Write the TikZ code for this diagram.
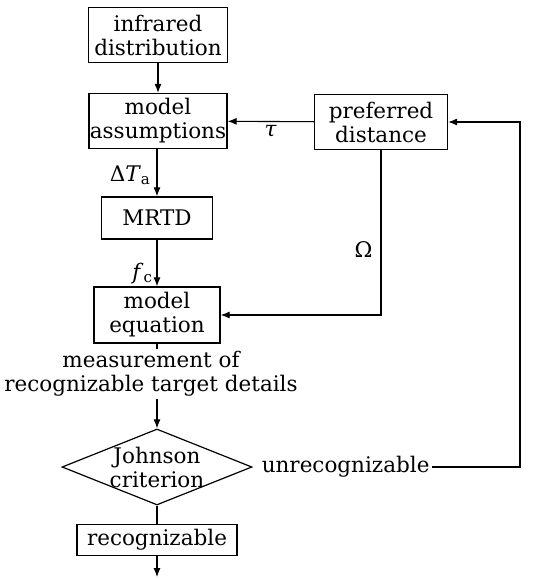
\documentclass[tikz,border=0pt]{standalone}
\usepackage{fontspec}
\setmainfont{DejaVu Serif}
\usetikzlibrary{positioning,shapes.geometric,arrows.meta}
\tikzset{
    flow box/.style={draw, line width=1.2pt, align=center, inner sep=0pt,
        font=\fontsize{21.5}{24}\selectfont},
    flow text/.style={align=center, inner sep=2pt,
        font=\fontsize{21.5}{24}\selectfont},
    flow arrow/.style={line width=1.1pt, -{Latex[length=9pt,width=7pt]}},
    flow line/.style={line width=1.1pt}
}

\begin{document}
\begin{tikzpicture}[x=1pt, y=-1pt]
    % Init
    \useasboundingbox (0,0) rectangle (534,579);
    % 1. def boxes
    \node[flow box, minimum width=139pt, minimum height=55pt] (infra) at (158,35) {infrared\\distribution};
    \node[flow box, minimum width=138pt, minimum height=55pt] (assum) at (158,121) {model\\assumptions};
    \node[flow box, minimum width=133pt, minimum height=55pt] (pref) at (381,122) {preferred\\distance};
    \node[flow box, minimum width=111pt, minimum height=42pt] (mrtd) at (157,218) {MRTD};
    \node[flow box, minimum width=126pt, minimum height=56pt] (equ) at (157,315) {model\\equation};
    \node[flow text] (meas) at (151,374) {measurement of\\recognizable target details};
    \node[draw, diamond, line width=1.2pt, minimum width=190pt, minimum height=76pt, inner sep=0pt] (john) at (157,467) {};
    \node[flow text] (johntxt) at (john) {Johnson\\criterion};
    \node[flow text, right=7pt of john.east, anchor=west] (unrec) {unrecognizable};
    \node[flow box, minimum width=160pt, minimum height=31pt] (recog) at (157,540) {recognizable};
    \coordinate (out) at (157,577);
    \coordinate (back) at (520,467);
    % 2. def connectors
    \draw[flow arrow] (infra) -- (assum);
    \draw[flow arrow] (assum.south -| mrtd) -- node[flow text, left, pos=0.55, xshift=-4pt] {Δ\textit{T}\textsubscript{a}} (mrtd);
    \draw[flow arrow] (mrtd) -- node[flow text, left, pos=0.72, xshift=-2pt] {\textit{f}\textsubscript{c}} (equ);
    \draw[flow arrow] (pref) -- node[flow text, below, yshift=-1pt] {\textit{τ}} (assum);
    \draw[flow arrow] (pref) |- node[flow text, pos=0.3, left, xshift=-6pt] {Ω} (equ);
    \draw[flow line] (equ) -- (equ |- meas.north);
    \draw[flow arrow] (equ |- meas.south) -- (john);
    \draw[flow line] (john) -- (recog);
    \draw[flow arrow] (recog) -- (out);
    % 3. feedback
    \draw[flow arrow] (unrec) -- (back) |- (pref);
\end{tikzpicture}
\end{document}
